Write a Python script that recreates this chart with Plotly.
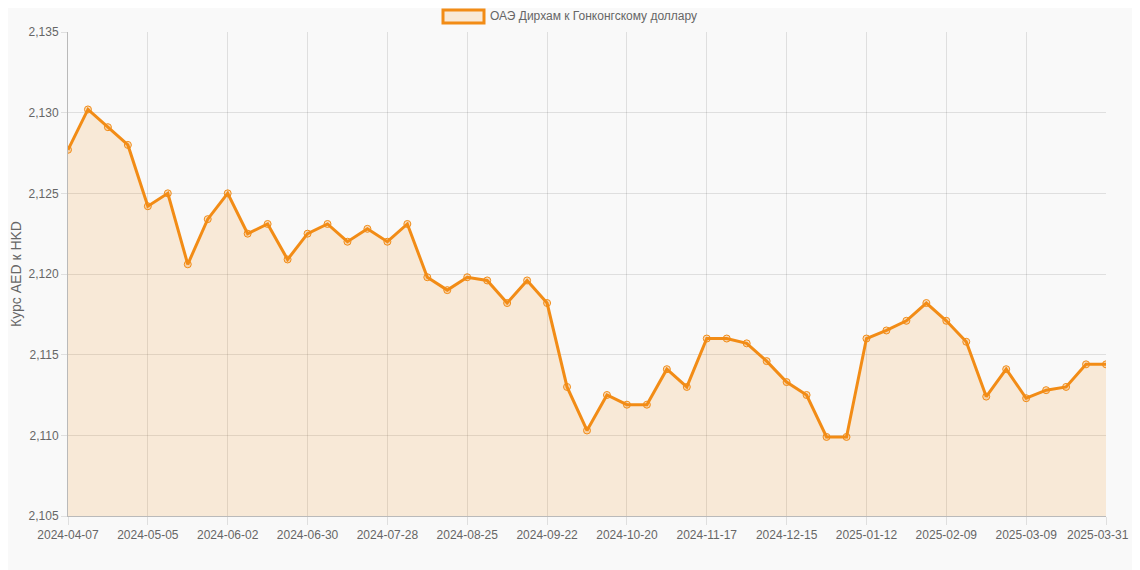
import plotly.graph_objects as go

# weekly AED -> HKD rate
dates = [
    "2024-04-07", "2024-04-14", "2024-04-21", "2024-04-28", "2024-05-05", "2024-05-12",
    "2024-05-19", "2024-05-26", "2024-06-02", "2024-06-09", "2024-06-16", "2024-06-23",
    "2024-06-30", "2024-07-07", "2024-07-14", "2024-07-21", "2024-07-28", "2024-08-04",
    "2024-08-11", "2024-08-18", "2024-08-25", "2024-09-01", "2024-09-08", "2024-09-15",
    "2024-09-22", "2024-09-29", "2024-10-06", "2024-10-13", "2024-10-20", "2024-10-27",
    "2024-11-03", "2024-11-10", "2024-11-17", "2024-11-24", "2024-12-01", "2024-12-08",
    "2024-12-15", "2024-12-22", "2024-12-29", "2025-01-05", "2025-01-12", "2025-01-19",
    "2025-01-26", "2025-02-02", "2025-02-09", "2025-02-16", "2025-02-23", "2025-03-02",
    "2025-03-09", "2025-03-16", "2025-03-23", "2025-03-30", "2025-03-31",
]
rates = [
    2.1277, 2.1302, 2.1291, 2.1280, 2.1242, 2.1250, 2.1206, 2.1234, 2.1250, 2.1225,
    2.1231, 2.1209, 2.1225, 2.1231, 2.1220, 2.1228, 2.1220, 2.1231, 2.1198, 2.1190,
    2.1198, 2.1196, 2.1182, 2.1196, 2.1182, 2.1130, 2.1103, 2.1125, 2.1119, 2.1119,
    2.1141, 2.1130, 2.1160, 2.1160, 2.1157, 2.1146, 2.1133, 2.1125, 2.1099, 2.1099,
    2.1160, 2.1165, 2.1171, 2.1182, 2.1171, 2.1158, 2.1124, 2.1141, 2.1123, 2.1128,
    2.1130, 2.1144, 2.1144,
]
tick_labels = dates[0:49:4] + [dates[-1]]

orange = "rgb(242,140,22)"
fill_col = "rgba(242,140,22,0.15)"
font_col = "#666"

fig = go.Figure()
fig.add_trace(go.Scatter(
    x=dates, y=rates, mode="lines+markers",
    line=dict(color=orange, width=3),
    marker=dict(size=7, color="rgba(242,140,22,0.25)", line=dict(color=orange, width=1)),
    fill="tozeroy", fillcolor=fill_col,
    name="ОАЭ Дирхам к Гонконгскому доллару",
    showlegend=False,
))

# legend drawn by hand, chart.js style (page adds 8px body margin, so coords are shifted)
fig.add_shape(type="rect", xref="paper", yref="paper",
              x0=(443 - 68) / 1038, x1=(484 - 68) / 1038,
              y0=1 + (32 - 23) / 484, y1=1 + (32 - 10) / 484,
              line=dict(color=orange, width=3), fillcolor="rgb(248,233,215)")
fig.add_annotation(text="ОАЭ Дирхам к Гонконгскому доллару", xref="paper", yref="paper",
                   x=(488 - 68) / 1038, y=1 + (32 - 16) / 484, xanchor="left", yanchor="middle",
                   showarrow=False, font=dict(size=12, color=font_col))

# last tick label would be clipped at the page edge, so place it by hand
tick_text = tick_labels[:-1] + [""]
fig.add_annotation(text=tick_labels[-1], xref="paper", yref="paper",
                   x=1 + 25 / 1038, y=-(535 - 516) / 484, xanchor="right", yanchor="middle",
                   showarrow=False, font=dict(size=12, color=font_col))

fig.update_layout(
    width=1124, height=562,
    margin=dict(l=60, r=26, t=24, b=54),
    paper_bgcolor="#f9f9f9", plot_bgcolor="#f9f9f9",
    font=dict(family="Liberation Sans, Arial, sans-serif", size=12, color=font_col),
    separators=", ",
)
fig.update_xaxes(
    type="category", range=[0, len(dates) - 1], automargin=False,
    tickmode="array", tickvals=tick_labels, ticktext=tick_text, tickangle=0,
    showgrid=True, gridcolor="rgba(0,0,0,0.1)", gridwidth=1,
    ticks="outside", ticklen=8, tickcolor="rgba(0,0,0,0.1)",
    showline=True, linecolor="rgba(0,0,0,0.25)", linewidth=1,
    zeroline=False,
)
fig.update_yaxes(
    range=[2.105, 2.135], dtick=0.005, tickformat=".3f", automargin=False,
    showgrid=True, gridcolor="rgba(0,0,0,0.1)", gridwidth=1,
    ticks="outside", ticklen=6, tickcolor="rgba(0,0,0,0.1)",
    showline=True, linecolor="rgba(0,0,0,0.25)", linewidth=1,
    zeroline=False,
    title=dict(text="Курс AED к HKD", font=dict(size=14, color=font_col), standoff=6),
)

fig.write_html("out.html")
